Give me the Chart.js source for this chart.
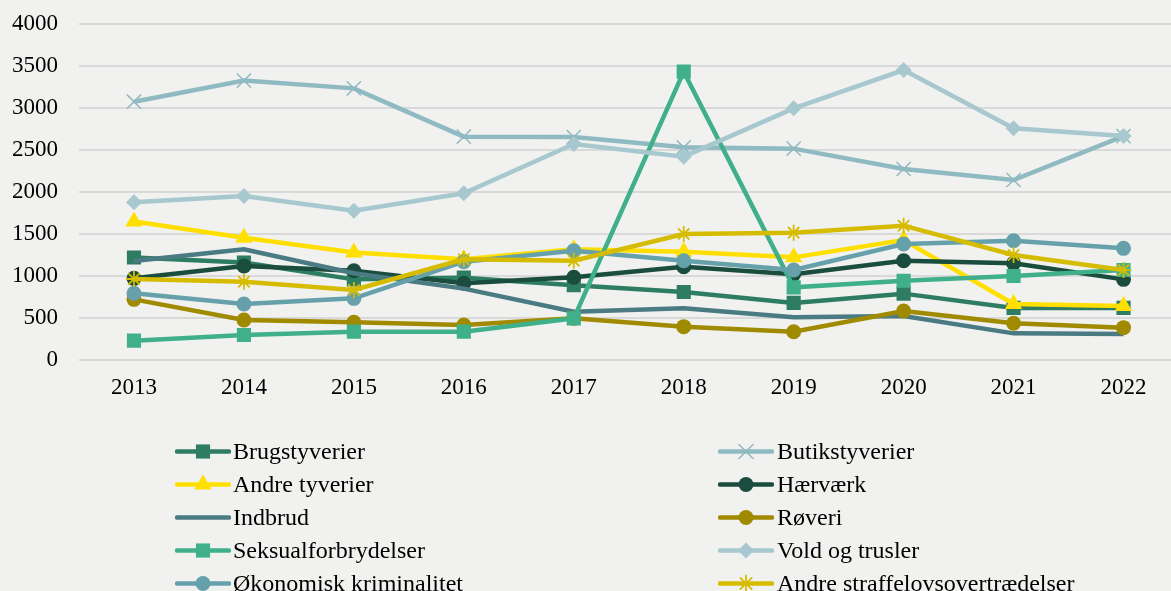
<!DOCTYPE html>
<html>
<head>
<meta charset="utf-8">
<script src="https://cdn.jsdelivr.net/npm/chart.js@4/dist/chart.umd.min.js"></script>
<style>
  html, body { margin: 0; padding: 0; background: #f1f1ef; overflow: hidden; width: 1171px; height: 591px; }
  #wrap { position: relative; width: 1171px; height: 591px; overflow: hidden; }
  #c { position: absolute; left: 0; top: 0; }
  .lg { position: absolute; height: 33px; line-height: 33px; font-family: 'Liberation Serif', 'Times New Roman', serif; font-size: 24px; color: #000; white-space: nowrap; }
  .lg canvas { position: absolute; left: 0; top: 4px; }
  .lg span { position: absolute; }
</style>
</head>
<body>
<div id="wrap">
  <canvas id="c" width="1190" height="591"></canvas>
  <div id="legend"></div>
</div>
<script>
const years = ['2013','2014','2015','2016','2017','2018','2019','2020','2021','2022'];
const yTicks = [0, 500, 1000, 1500, 2000, 2500, 3000, 3500, 4000];

const brugstyverier       = [1220, 1160, 960, 980, 890, 810, 680, 790, 620, 620];
const butikstyverier      = [3075, 3326, 3234, 2659, 2655, 2532, 2516, 2274, 2143, 2665];
const andreTyverier       = [1650, 1456, 1280, 1200, 1318, 1289, 1222, 1428, 667, 643];
const haervaerk           = [972, 1119, 1063, 913, 984, 1111, 1020, 1182, 1151, 960];
const indbrud             = [1179, 1318, 1032, 850, 575, 615, 508, 524, 317, 310];
const roeveri             = [722, 476, 448, 417, 496, 397, 337, 583, 437, 385];
const seksualforbrydelser = [230, 298, 337, 337, 496, 3433, 865, 944, 1000, 1071];
const voldOgTrusler       = [1877, 1952, 1778, 1984, 2571, 2421, 2996, 3452, 2758, 2667];
const oekonomisk          = [794, 667, 734, 1170, 1301, 1182, 1071, 1381, 1420, 1329];
const andreStraffelov     = [964, 932, 833, 1198, 1182, 1500, 1516, 1599, 1250, 1071];

const seriesNames = ['Brugstyverier','Butikstyverier','Andre tyverier','Hærværk','Indbrud','Røveri','Seksualforbrydelser','Vold og trusler','Økonomisk kriminalitet','Andre straffelovsovertrædelser'];
const seriesData = [brugstyverier, butikstyverier, andreTyverier, haervaerk, indbrud, roeveri, seksualforbrydelser, voldOgTrusler, oekonomisk, andreStraffelov];
const seriesColors = ['#2e7d63','#8fbac2','#ffdf00','#1b4d3e','#4a7a82','#a08a00','#3fb08a','#a7c8ce','#66a1ab','#d6bc00'];
const seriesMarkers = ['rect','crossRot','triangle','circle',false,'circle','rect','rectRot','circle','star'];
const markerRadius = [10, 10, 10, 7.5, 0, 7.5, 10, 8, 7.5, 8];
const markerBorder = [0, 1.5, 0, 0, 0, 0, 0, 0, 0, 1.8];

const FONT = "'Liberation Serif', 'Times New Roman', serif";

const datasets = seriesNames.map((name, i) => ({
  label: name,
  data: seriesData[i],
  borderColor: seriesColors[i],
  backgroundColor: seriesColors[i],
  borderWidth: 4.5,
  pointStyle: seriesMarkers[i] || 'circle',
  pointRadius: seriesMarkers[i] ? markerRadius[i] : 0,
  pointHoverRadius: seriesMarkers[i] ? markerRadius[i] : 0,
  pointBorderWidth: markerBorder[i],
  pointBackgroundColor: seriesColors[i],
  pointBorderColor: seriesColors[i],
  tension: 0,
  order: seriesNames.length - i
}));

new Chart(document.getElementById('c'), {
  type: 'line',
  data: { labels: years, datasets },
  options: {
    responsive: false,
    devicePixelRatio: 1,
    animation: false,
    layout: { padding: { left: 0, right: 8, top: 24, bottom: 191 } },
    plugins: { legend: { display: false }, tooltip: { enabled: false } },
    scales: {
      y: {
        min: 0, max: 4000,
        afterBuildTicks: (s) => { s.ticks = yTicks.map(v => ({ value: v })); },
        afterFit: (s) => { s.width = 79; s.paddingTop = 0; s.paddingBottom = 0; },
        ticks: { font: { family: FONT, size: 23 }, color: '#000', padding: 21, callback: (v) => String(v) },
        grid: { color: '#d9d9d9', lineWidth: 2, drawTicks: false },
        border: { display: false }
      },
      x: {
        offset: true,
        afterFit: (s) => { s.height = 40; s.paddingLeft = 0; s.paddingRight = 0; },
        ticks: { font: { family: FONT, size: 23 }, color: '#000', padding: 14, maxRotation: 0, autoSkip: false },
        grid: { display: false, drawTicks: false, offset: true },
        border: { display: false }
      }
    }
  }
});

// HTML legend
const legend = document.getElementById('legend');
const colX = [175, 718];
const rowY = [451, 484, 517, 550, 583];
function drawMarker(ctx, style, r, bw, color, x, y) {
  ctx.fillStyle = color; ctx.strokeStyle = color; ctx.lineWidth = bw || 1.5;
  if (Chart.helpers && Chart.helpers.drawPoint) {
    Chart.helpers.drawPoint(ctx, { pointStyle: style, radius: r, rotation: 0, borderWidth: bw }, x, y);
  }
}
seriesNames.forEach((name, i) => {
  const col = i % 2, row = Math.floor(i / 2);
  const div = document.createElement('div');
  div.className = 'lg';
  div.style.left = colX[col] + 'px';
  div.style.top = (rowY[row] - 16.5) + 'px';
  const cv = document.createElement('canvas');
  cv.width = 56; cv.height = 25;
  const ctx = cv.getContext('2d');
  ctx.strokeStyle = seriesColors[i]; ctx.lineWidth = 4.5; ctx.lineCap = 'round';
  ctx.beginPath(); ctx.moveTo(2, 12.5); ctx.lineTo(54, 12.5); ctx.stroke();
  if (seriesMarkers[i]) drawMarker(ctx, seriesMarkers[i], markerRadius[i], markerBorder[i], seriesColors[i], 28, 12.5);
  div.appendChild(cv);
  const sp = document.createElement('span');
  sp.textContent = name;
  sp.style.left = (col === 0 ? 58 : 59) + 'px';
  div.appendChild(sp);
  legend.appendChild(div);
});
</script>
</body>
</html>
